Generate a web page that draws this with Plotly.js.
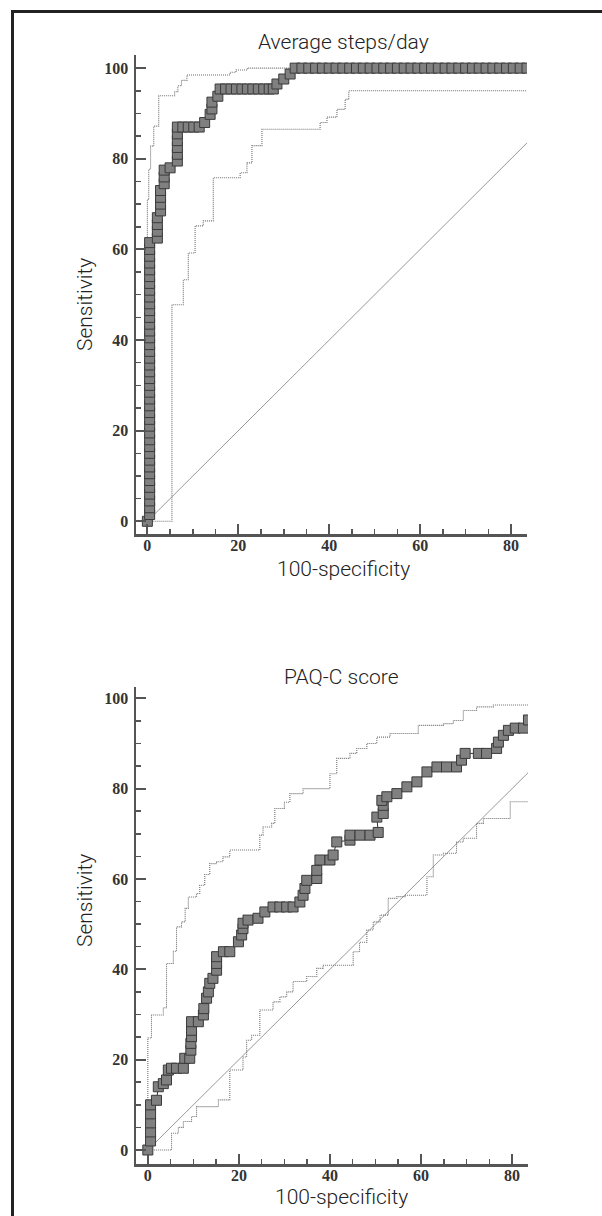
<!DOCTYPE html>
<html>
<head>
<meta charset="utf-8">
<script src="https://cdn.plot.ly/plotly-3.0.1.min.js"></script>
<style>
  html, body { margin: 0; padding: 0; background: #fff; }
  #wrap { position: relative; width: 602px; height: 1216px; overflow: hidden; }
  #chart { position: absolute; left: 0; top: 0; width: 602px; height: 1216px; }
  #frame { position: absolute; left: 11px; top: 10px; width: 700px; height: 1300px;
           border-left: 3px solid #222; border-top: 3px solid #222; pointer-events: none; }
</style>
</head>
<body>
<div id="wrap"><div id="chart"></div><div id="frame"></div></div>
<script>
// ---------- data (100-specificity, sensitivity) ----------
const titles = ["Average steps/day", "PAQ-C score"];
const xTitle = "100-specificity";
const yTitle = "Sensitivity";
const xTicks = [0, 20, 40, 60, 80];
const yTicks = [0, 20, 40, 60, 80, 100];

// Average steps/day ROC curve
const stepsRoc = [
  [0,0],
  [0.5,1.5],[0.5,3],[0.5,4.5],[0.5,6],[0.5,7.5],[0.5,9],[0.5,10.5],[0.5,12],[0.5,13.5],[0.5,15],
  [0.5,16.5],[0.5,18],[0.5,19.5],[0.5,21],[0.5,22.5],[0.5,24],[0.5,25.5],[0.5,27],[0.5,28.5],[0.5,30],
  [0.5,31.5],[0.5,33],[0.5,34.5],[0.5,36],[0.5,37.5],[0.5,39],[0.5,40.5],[0.5,42],[0.5,43.5],[0.5,45],
  [0.5,46.5],[0.5,48],[0.5,49.5],[0.5,51],[0.5,52.5],[0.5,54],[0.5,55.5],[0.5,57],[0.5,58.5],[0.5,60],[0.5,61.5],
  [2.2,62.5],[2.2,64],[2.2,65.5],[2.2,67],
  [2.9,68.5],[2.9,70],[2.9,71.5],[2.9,73],
  [3.7,74.5],[3.7,76],[3.7,77.5],[5,78],
  [6.6,79.5],[6.6,81],[6.6,82.5],[6.6,84],[6.6,85.5],[6.6,87],
  [7.8,87],[9,87],[10.2,87],[11.4,87],
  [12.6,88],[13.8,89.8],[14.2,91],[14.2,92.5],[15.5,93.8],[16,95.4],
  [17.2,95.4],[18.4,95.4],[19.6,95.4],[20.8,95.4],[22,95.4],[23.2,95.4],[24.4,95.4],[25.6,95.4],[26.8,95.4],[27.7,95.4],
  [28.5,96.5],[30,97.6],[31.4,98.7],[32.5,100],
  [34,100],[35.5,100],[37,100],[38.5,100],[40,100],[41.5,100],[43,100],[44.5,100],[46,100],[47.5,100],
  [49,100],[50.5,100],[52,100],[53.5,100],[55,100],[56.5,100],[58,100],[59.5,100],[61,100],[62.5,100],
  [64,100],[65.5,100],[67,100],[68.5,100],[70,100],[71.5,100],[73,100],[74.5,100],[76,100],[77.5,100],
  [79,100],[80.5,100],[82,100],[83.5,100],[85,100]
];
const stepsUpper = [
  [0,0],[0,71],[0.3,77.7],[0.7,82.8],[1.4,87.2],[2.5,93.9],[6.0,94.8],[6.7,96.1],[7.5,97.3],[8.7,98.5],
  [18.2,99.1],[19.5,99.6],[22,100],[85,100]
];
const stepsLower = [
  [0,0],[5.4,47.8],[7.9,53.3],[9.0,59.2],[10.5,65.2],[12.3,66.3],[14.5,75.8],[20.4,76.9],[21.9,79.1],
  [23,82.9],[25.2,86.5],[38,88],[39.5,89.2],[41.7,90.9],[43.5,93.1],[44.3,95],[85,95]
];

// PAQ-C score ROC curve
const paqRoc = [
  [0,0],[0.6,2],[0.6,4],[0.6,6],[0.6,8],[0.6,10],[1.9,11],[2.3,14],[3.4,14.7],[4.1,15.5],
  [4.5,17.7],[5.2,18.1],[6.3,18.1],[7.8,18.1],[8.1,20.3],[9.2,20.3],[9.45,22.1],[9.45,23.6],[9.6,25.1],[9.6,26.5],
  [9.6,28.4],[11.1,28.4],[12.2,29.9],[12.3,31.3],[12.9,33.6],[13.3,35],[13.6,36.9],[14.3,38],[15.1,39.8],[15.1,41.3],
  [15.1,42.8],[16.6,43.9],[18,43.9],[19.9,46.1],[20.6,47.6],[20.9,49],[20.9,50.2],[22,50.9],[24.2,51.3],[25.7,52.7],
  [27.5,53.8],[29,53.8],[30.5,53.8],[31.9,53.8],[33.4,54.9],[34.1,56.4],[34.5,57.9],[34.9,59.7],[37.1,60.1],[37.1,61.9],
  [37.8,64.2],[40,64.2],[40.7,65.3],[41.5,68.2],[44.4,68.6],[44.4,69.7],[46.6,69.7],[48.8,69.7],[50.6,70.3],[50.3,73.7],
  [51.7,74.5],[51.7,76.3],[51.4,77.4],[52.5,78.2],[54.7,78.9],[56.9,80.4],[59.1,81.5],[61.3,83.7],[63.5,84.8],[65.6,84.8],
  [67.8,84.8],[68.9,86.3],[69.7,87.8],[72.6,87.8],[74.4,87.8],[76.6,88.9],[77,90.3],[78.1,91.8],[79.2,92.9],[80.7,93.4],
  [82.5,93.4],[83.6,95.2]
];
const paqUpper = [
  [0,0],[0,24.8],[0.8,29.9],[3.4,31.5],[4.1,41.3],[5.6,44],[6.3,49.4],[7.4,50.5],[8.2,53.5],[8.9,56],
  [10.7,56.8],[11.4,58.6],[12.5,61],[13.6,63.4],[15.1,63.8],[16.5,64.9],[18,66.4],[24.6,69.7],[25.3,71.5],[27.2,72.3],
  [27.9,75.6],[30,77],[31.2,78.9],[34.1,80],[40,83.3],[41.5,86.7],[44.4,87.8],[45.9,88.9],[48.1,90],[50.3,91.4],
  [53.2,92.2],[59.4,94],[64.9,94.4],[67.1,95.1],[69.3,97.3],[72.2,98.1],[75.9,98.5],[85,98.5]
];
const paqLower = [
  [0,0],[5.2,3.7],[6.7,5],[7.8,6.3],[9.6,7.4],[10.7,9.6],[15.5,11.1],[18,17.7],[20.9,20.6],[21.7,24.3],
  [22.8,25.4],[24.6,31],[27.5,32.8],[29,33.9],[30.5,35],[31.9,37.3],[34.9,38.4],[37.1,40.2],[38.5,40.9],[45.1,43.9],
  [46.5,46],[48.1,48.7],[49.5,50.5],[51,52],[52.8,55.7],[54.7,56.1],[56.5,56.4],[61.3,60.5],[62.7,65.3],[64.9,65.7],
  [67.8,68.2],[69.3,69],[72.2,72.3],[73.7,73.4],[79.6,77.1],[85,77.1]
];
const chanceLine = [[0,0],[100,100]];

// ---------- drawing ----------
const xs = p => p.map(d => d[0]);
const ys = p => p.map(d => d[1]);

function panelTraces(roc, upper, lower, xa, ya) {
  return [
    { x: xs(chanceLine), y: ys(chanceLine), xaxis: xa, yaxis: ya, mode: 'lines',
      line: { color: '#999', width: 1 }, hoverinfo: 'skip' },
    { x: xs(upper), y: ys(upper), xaxis: xa, yaxis: ya, mode: 'lines',
      line: { color: '#707070', width: 1.1, dash: '1px,1px', shape: 'hv' }, hoverinfo: 'skip' },
    { x: xs(lower), y: ys(lower), xaxis: xa, yaxis: ya, mode: 'lines',
      line: { color: '#707070', width: 1.1, dash: '1px,1px', shape: 'hv' }, hoverinfo: 'skip' },
    { x: xs(roc), y: ys(roc), xaxis: xa, yaxis: ya, mode: 'lines+markers',
      line: { color: '#333', width: 1 },
      marker: { symbol: 'square', size: 10, color: '#808080', line: { color: '#3a3a3a', width: 1 } } }
  ];
}

const data = [].concat(
  panelTraces(stepsRoc, stepsUpper, stepsLower, 'x', 'y'),
  panelTraces(paqRoc, paqUpper, paqLower, 'x2', 'y2')
);

const tickFont = { family: 'Liberation Serif, DejaVu Serif, serif', size: 16, color: '#333', weight: 'bold' };
function xAxis(domain) {
  return {
    domain: domain, range: [-2.5, 83.5], tickvals: xTicks, ticktext: xTicks.map(String),
    ticks: 'inside', ticklen: 10, tickwidth: 2, tickcolor: '#555', ticklabelstandoff: -5,
    minor: { dtick: 5, tick0: 0, ticks: 'inside', ticklen: 5, tickwidth: 1.5, tickcolor: '#555' },
    showline: true, linewidth: 2.5, linecolor: '#555', showgrid: false, zeroline: false,
    tickfont: tickFont, automargin: false, fixedrange: true
  };
}
function yAxis(domain, range, anchor) {
  return {
    domain: domain, range: range, tickvals: yTicks, ticktext: yTicks.map(String), anchor: anchor,
    ticks: 'inside', ticklen: 10, tickwidth: 2, tickcolor: '#555', ticklabelstandoff: 2,
    minor: { dtick: 5, tick0: 0, ticks: 'inside', ticklen: 5, tickwidth: 1.5, tickcolor: '#555' },
    showline: true, linewidth: 2.5, linecolor: '#555', showgrid: false, zeroline: false,
    tickfont: tickFont, automargin: false, fixedrange: true
  };
}

const W = 602, H = 1216;
const px = v => v / W;
const py = v => 1 - v / H;
const titleFont = { family: 'Roboto, Liberation Sans, sans-serif', size: 21, color: '#222', weight: 300 };
function ann(text, x, y, angle) {
  return { text: text, x: px(x), y: py(y), xref: 'paper', yref: 'paper', showarrow: false,
           xanchor: 'center', yanchor: 'middle', font: titleFont, textangle: angle || 0 };
}

const layout = {
  width: W, height: H, showlegend: false,
  paper_bgcolor: '#fff', plot_bgcolor: '#fff',
  margin: { l: 0, r: 0, t: 0, b: 0 },
  xaxis: Object.assign(xAxis([px(136), px(527)]), { anchor: 'y' }),
  yaxis: yAxis([py(534), py(55)], [-2.8, 102.9], 'x'),
  xaxis2: Object.assign(xAxis([px(136), px(528)]), { anchor: 'y2', range: [-2.6, 83.5] }),
  yaxis2: yAxis([py(1164), py(687)], [-3.1, 102.5], 'x2'),
  annotations: [
    ann(titles[0], 343, 42),
    ann(xTitle, 343, 569),
    ann(yTitle, 85, 305, -90),
    ann(titles[1], 342, 677),
    ann(xTitle, 342, 1197),
    ann(yTitle, 85, 901, -90)
  ]
};

Plotly.newPlot('chart', data, layout, { staticPlot: true, displayModeBar: false });
</script>
</body>
</html>
